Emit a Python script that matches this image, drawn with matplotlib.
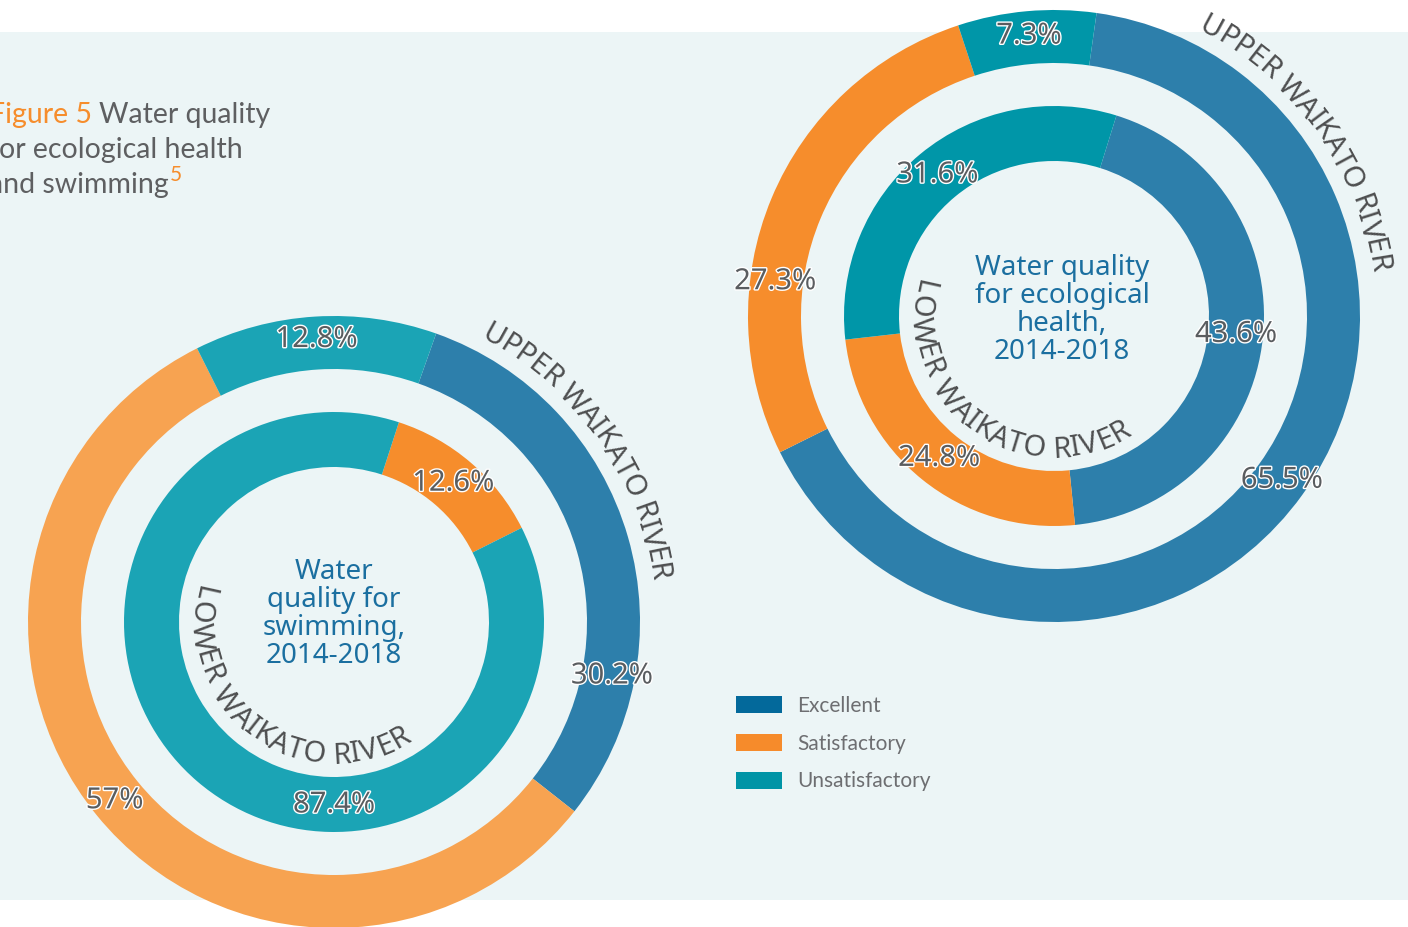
import numpy as np
import matplotlib
matplotlib.use("Agg")
import matplotlib.pyplot as plt
import matplotlib.patheffects as pe
from matplotlib.patches import Patch, Rectangle
from matplotlib.font_manager import FontProperties

# --- data (percentages as printed on the chart) ---
categories = ["Excellent", "Satisfactory", "Unsatisfactory"]

# left chart: water quality for swimming
swim_upper = [30.2, 57.0, 12.8]
swim_lower = [0.0, 12.6, 87.4]
# right chart: water quality for ecological health
eco_upper = [65.5, 27.3, 7.3]
eco_lower = [43.6, 24.8, 31.6]

swim_title = "Water\nquality for\nswimming,\n2014-2018"
eco_title = "Water quality\nfor ecological\nhealth,\n2014-2018"
upper_name = "UPPER WAIKATO RIVER"
lower_name = "LOWER WAIKATO RIVER"

legend_colors = ["#03699b", "#f68b2b", "#0094a6"]

BG = "#ecf5f6"
GREY = "#5e5f61"
ARC_GREY = "#4e4f50"
LABEL_GREY = "#5a5d60"
BLUE_TXT = "#1b6fa0"
ORANGE = "#f68d2c"

W, H = 1408, 927
fig = plt.figure(figsize=(W / 100, H / 100), dpi=100)
fig.patch.set_facecolor("white")
ax = fig.add_axes([0, 0, 1, 1])
renderer = fig.canvas.get_renderer()

label_fp = FontProperties(family=["Noto Sans", "DejaVu Sans"], size=21)
arc_fp = FontProperties(family=["Liberation Sans Narrow", "Noto Sans", "DejaVu Sans"], size=21)
centre_fp = FontProperties(family=["Noto Sans", "DejaVu Sans"], size=20)
title_fp = FontProperties(family=["Lato", "DejaVu Sans"], size=20.5)
legend_fp = FontProperties(family=["Lato", "DejaVu Sans"], size=15)

# background panel
ax.add_patch(Rectangle((0, H - 900), W, 868, color=BG, lw=0, zorder=0))


def text_w(s, fp):
    return renderer.get_text_width_height_descent(s, fp, ismath=False)[0]


def arc_text(cx, cy, r, mid, text, inside, fp):
    # lay characters one by one along a circle; inside text reads counterclockwise
    base = text_w("II", fp)
    adv = [text_w("I" + ch + "I", fp) - base for ch in text]
    total = sum(adv)
    sign = 1 if inside else -1
    pos = 0.0
    for ch, a in zip(text, adv):
        c = pos + a / 2
        pos += a
        if ch == " ":
            continue
        th = np.radians(mid) + sign * (c - total / 2) / r
        rot = np.degrees(th) + (90 if inside else -90)
        ax.text(cx + r * np.cos(th), cy + r * np.sin(th), ch, rotation=rot,
                rotation_mode="anchor", ha="center", va="center",
                fontproperties=fp, color=ARC_GREY, zorder=5)


def ring(cx, cy, values, colors, radius, width, start, label_r, label_at=None):
    keep = [i for i, v in enumerate(values) if v > 0]
    vals = [values[i] for i in keep]
    cols = [colors[i] for i in keep]
    wedges, _ = ax.pie(vals, radius=radius, center=(cx, cy), startangle=start,
                       counterclock=False, colors=cols,
                       wedgeprops=dict(width=width, linewidth=0, antialiased=True))
    label_at = label_at or {}
    for i, w in zip(keep, wedges):
        ang = (w.theta1 + w.theta2) / 2
        if i in label_at:
            ang = 90 - label_at[i]  # given clockwise from north
        a = np.radians(ang)
        txt = f"{values[i]:g}%"
        ax.text(cx + label_r * np.cos(a), cy + label_r * np.sin(a), txt,
                ha="center", va="center", fontproperties=label_fp, color=LABEL_GREY,
                zorder=6, path_effects=[pe.withStroke(linewidth=2, foreground="white")])


R_OUT, W_OUT = 306, 53
R_IN, W_IN = 210, 55

# left: swimming
lx, ly = 334, H - 622
ring(lx, ly, swim_upper, ["#2d7fab", "#f7a351", "#1ba4b5"], R_OUT, W_OUT, 70.5, 283,
     label_at={0: 101})
ring(lx, ly, swim_lower, ["#2d7fab", "#f68d2c", "#1ba4b5"], R_IN, W_IN, 72, 183,
     label_at={2: 180})
ax.text(lx, ly + 8, swim_title, ha="center", va="center", fontproperties=centre_fp,
        color=BLUE_TXT, linespacing=1.0, zorder=5)
arc_text(lx, ly, 327, 35, upper_name, False, arc_fp)
arc_text(lx, ly, 134, 234, lower_name, True, arc_fp)

# right: ecological health
rx, ry = 1054, H - 316
ring(rx, ry, eco_upper, ["#2d7fab", "#f68d2c", "#0096a8"], R_OUT, W_OUT, 82, 281,
     label_at={1: 277})
ring(rx, ry, eco_lower, ["#2d7fab", "#f68d2c", "#0096a8"], R_IN, W_IN, 72.7, 183)
ax.text(rx + 8, ry + 6, eco_title, ha="center", va="center", fontproperties=centre_fp,
        color=BLUE_TXT, linespacing=1.0, zorder=5)
arc_text(rx, ry, 327, 35.5, upper_name, False, arc_fp)
arc_text(rx, ry, 134, 234, lower_name, True, arc_fp)

# figure caption, cut at the left edge like the source
t1 = ax.text(-11, H - 123, "Figure 5", color=ORANGE, fontproperties=title_fp, va="baseline")
ax.annotate("Water quality", xy=(1, 0), xycoords=t1, xytext=(5, 0),
            textcoords="offset points", va="bottom", color=GREY, fontproperties=title_fp)
ax.text(-11, H - 158, "for ecological health", color=GREY, fontproperties=title_fp,
        va="baseline")
t3 = ax.text(-11, H - 193, "and swimming", color=GREY, fontproperties=title_fp,
             va="baseline")
ax.annotate("5", xy=(1, 1), xycoords=t3, xytext=(1, 5), textcoords="offset points",
            va="top", color=ORANGE,
            fontproperties=FontProperties(family=["Lato", "DejaVu Sans"], size=15))

# legend
handles = [Patch(facecolor=c, edgecolor="none", label=n) for c, n in zip(legend_colors, categories)]
leg = ax.legend(handles=handles, loc="upper left", bbox_to_anchor=(736, H - 696),
                bbox_transform=ax.transData, frameon=False, prop=legend_fp,
                handlelength=2.2, handleheight=0.87, handletextpad=0.75,
                labelspacing=0.85, borderpad=0, borderaxespad=0)
for t in leg.get_texts():
    t.set_color("#6d6e71")

ax.set_xlim(0, W)
ax.set_ylim(0, H)
ax.set_aspect("auto")
ax.axis("off")

fig.savefig("out.png", dpi=100, facecolor="white")
